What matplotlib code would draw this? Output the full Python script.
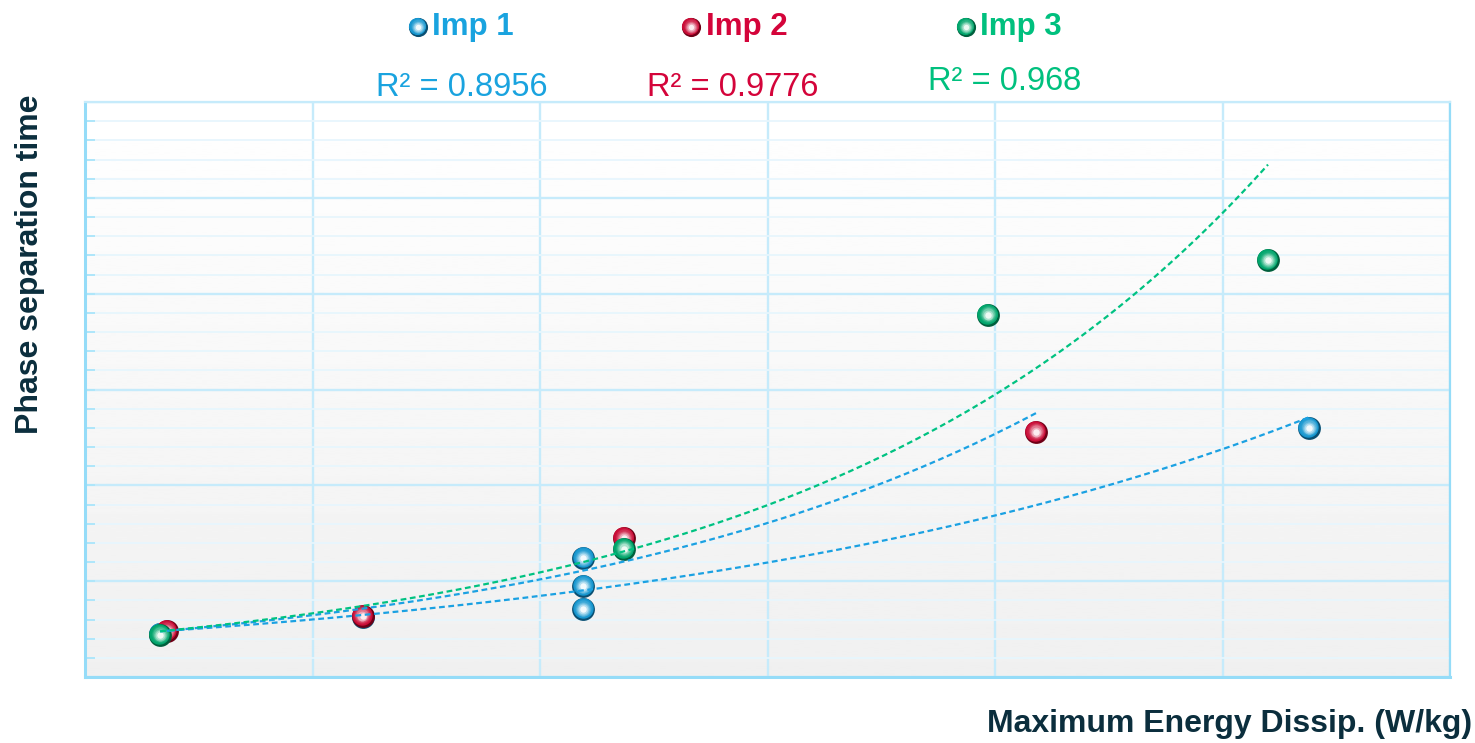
import numpy as np
import matplotlib
matplotlib.use("Agg")
import matplotlib.pyplot as plt
from matplotlib.ticker import MultipleLocator, NullFormatter
from matplotlib.transforms import offset_copy
from matplotlib.colors import to_rgb

plt.rcParams['font.family'] = ['Liberation Sans', 'DejaVu Sans']

# Measurements per impeller
imp1_x = [0.33, 1.22, 2.19, 2.19, 2.19, 5.38]
imp1_y = [0.45, 0.63, 1.24, 0.95, 0.71, 2.60]
imp2_x = [0.36, 1.22, 2.37, 4.18]
imp2_y = [0.48, 0.64, 1.45, 2.56]
imp3_x = [0.33, 2.37, 3.97, 5.20]
imp3_y = [0.44, 1.34, 3.78, 4.35]

series_names = ["Imp 1", "Imp 2", "Imp 3"]
r2_labels = ["R² = 0.8956", "R² = 0.9776", "R² = 0.968"]

text_colors = ["#19a3df", "#d4043a", "#00c07e"]
trend_colors = ["#1ba1e2", "#1ba1e2", "#00c281"]
# rim, body, centre highlight
sphere_colors = [
    ("#0a4f72", "#1596cf", "#f2fafd"),
    ("#6e0016", "#c90c36", "#fcedf0"),
    ("#005f3d", "#00a56b", "#eefaf4"),
]

W, H, DPI = 1475, 743, 100
fig = plt.figure(figsize=(W / DPI, H / DPI), dpi=DPI)
ax = fig.add_axes([85 / W, 1 - 677 / H, (1450 - 85) / W, (677 - 102) / H])

ax.set_xlim(0, 6)
ax.set_ylim(0, 6)

# soft vertical gradient in the plotting area
grad = np.linspace(0.94, 1.0, 256).reshape(-1, 1)
ax.imshow(grad, extent=[0, 1, 0, 1], transform=ax.transAxes, origin="lower",
          cmap="gray", vmin=0, vmax=1, aspect="auto", zorder=0)

ax.xaxis.set_major_locator(MultipleLocator(1))
ax.yaxis.set_major_locator(MultipleLocator(1))
ax.yaxis.set_minor_locator(MultipleLocator(0.2))
ax.xaxis.set_major_formatter(NullFormatter())
ax.yaxis.set_major_formatter(NullFormatter())
ax.yaxis.set_minor_formatter(NullFormatter())

ax.grid(True, which="major", axis="both", color="#c6ebfb", lw=1.7, zorder=1)
ax.grid(True, which="minor", axis="y", color="#e7f6fd", lw=1.3, zorder=1)
ax.set_axisbelow(True)

ax.tick_params(axis="x", length=0)
ax.tick_params(axis="y", which="both", direction="in", length=7, width=1.4,
               color="#aee6fa")
for side, sp in ax.spines.items():
    sp.set_color("#95dcf8")
    sp.set_linewidth(2.2 if side in ("left", "bottom") else 1.6)
ax.spines["top"].set_color("#c6ebfb")


def mix(c1, c2, t):
    a, b = np.array(to_rgb(c1)), np.array(to_rgb(c2))
    return tuple(a + (b - a) * t)


def sphere(axis, xs, ys, cols, size=270, transform=None, z=3):
    """Shaded ball marker built from stacked discs."""
    rim, body, hi = cols
    tr = transform if transform is not None else axis.transData
    axis.scatter(xs, ys, s=size, color=rim, lw=0, zorder=z, transform=tr)
    steps = 8
    for k in range(steps):
        t = k / (steps - 1)
        scale = 0.80 * (1 - t) + 0.08 * t
        col = mix(body, hi, t ** 2.2)
        dx, dy = -0.5 * (1 - t), 0.7 * (1 - t)
        axis.scatter(xs, ys, s=size * scale, color=col, lw=0,
                     zorder=z + 0.01 * (k + 1),
                     transform=offset_copy(tr, fig=fig, x=dx, y=dy,
                                           units="points"))


all_x = [imp1_x, imp2_x, imp3_x]
all_y = [imp1_y, imp2_y, imp3_y]

for i, (xs, ys) in enumerate(zip(all_x, all_y)):
    sphere(ax, xs, ys, sphere_colors[i], z=3 + i)

# exponential trend lines fitted on log(y)
for i, (xs, ys) in enumerate(zip(all_x, all_y)):
    xa = np.asarray(xs, float)
    ya = np.asarray(ys, float)
    b, a = np.polyfit(xa, np.log(ya), 1)
    xf = np.linspace(xa.min(), xa.max(), 200)
    ax.plot(xf, np.exp(a + b * xf), color=trend_colors[i], lw=1.6,
            ls=(0, (2.6, 1.6)), zorder=10, clip_on=True)

# legend row and R² labels above the plot
leg_ax = fig.add_axes([0, 0, 1, 1], facecolor="none")
leg_ax.set_xlim(0, W)
leg_ax.set_ylim(H, 0)
leg_ax.axis("off")
legend_marker_x = [418, 691, 966]
legend_text_x = [432, 706, 980]
for i in range(3):
    sphere(leg_ax, [legend_marker_x[i]], [27], sphere_colors[i], size=190, z=5)
    leg_ax.text(legend_text_x[i], 27, series_names[i], color=text_colors[i],
                fontsize=22.5, fontweight="bold", ha="left", va="center")

r2_x = [462, 733, 1005]
r2_y = [87, 87, 82]
for i in range(3):
    leg_ax.text(r2_x[i], r2_y[i], r2_labels[i], color=text_colors[i],
                fontsize=23.5, ha="center", va="center")

fig.text(30 / W, 1 - 264 / H, "Phase separation time", rotation=90,
         fontsize=23, fontweight="bold", color="#0b2e3d", ha="center", va="center")
fig.text(1472 / W, 1 - 724 / H, "Maximum Energy Dissip. (W/kg)",
         fontsize=23, fontweight="bold", color="#0b2e3d", ha="right", va="center")

fig.savefig("out.png", dpi=DPI)
